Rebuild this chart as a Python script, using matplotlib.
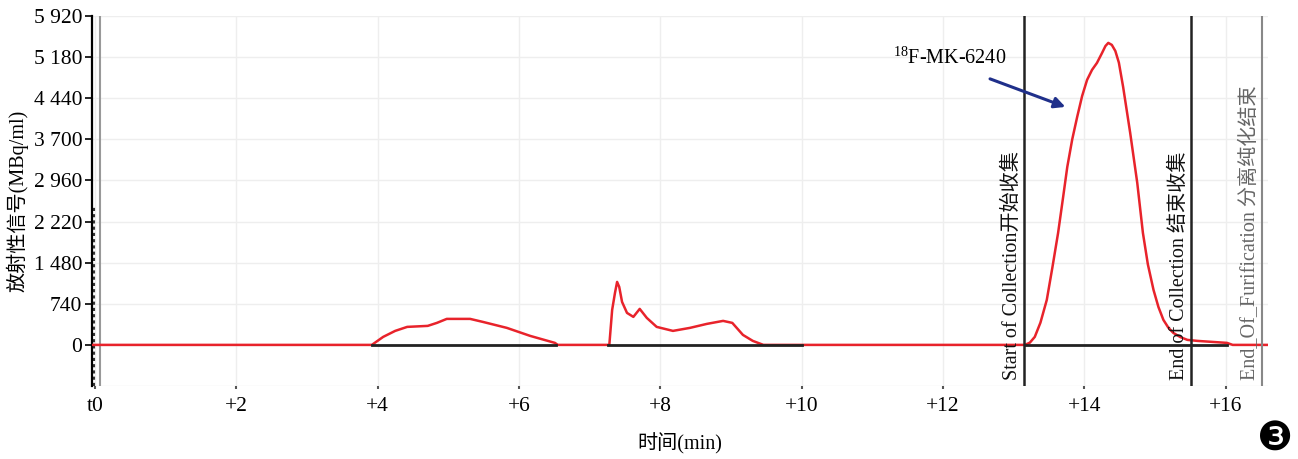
import matplotlib
matplotlib.use('Agg')
import matplotlib.pyplot as plt
import numpy as np

plt.rcParams['font.family'] = ['Liberation Serif', 'Noto Sans CJK SC', 'DejaVu Sans']
plt.rcParams['mathtext.fontset'] = 'custom'
plt.rcParams['mathtext.rm'] = 'Liberation Serif'

# radio trace (min, MBq/ml)
t_trace = [-0.04, 3.92, 4.08, 4.25, 4.42, 4.71, 4.84, 4.98, 5.31, 5.49, 5.83, 6.16, 6.51, 6.55,
           7.24, 7.28, 7.32, 7.36, 7.39, 7.42, 7.46, 7.53, 7.62, 7.71, 7.81, 7.95, 8.18, 8.42,
           8.66, 8.89, 9.02, 9.17, 9.31, 9.46,
           13.16, 13.23, 13.30, 13.38, 13.47, 13.55, 13.63, 13.70, 13.76, 13.83, 13.90, 13.97,
           14.04, 14.11, 14.18, 14.25, 14.30, 14.34, 14.39, 14.44, 14.49, 14.55, 14.65,
           14.75, 14.83, 14.90, 14.98, 15.05, 15.12, 15.19, 15.26, 15.36, 15.46, 15.60, 16.02,
           16.10, 16.60]
v_trace = [0, 0, 144, 252, 324, 342, 396, 468, 468, 414, 306, 162, 36, 0,
           0, 0, 630, 936, 1134, 1044, 774, 576, 504, 648, 486, 324, 252, 306,
           378, 432, 396, 180, 72, 0,
           0, 40, 144, 400, 810, 1400, 2016, 2650, 3204, 3700, 4104, 4480,
           4770, 4950, 5076, 5250, 5380, 5436, 5400, 5290, 5080, 4644, 3816,
           2916, 2016, 1450, 990, 680, 450, 310, 216, 140, 90, 72, 36,
           0, 0]

# integration baselines
base_start = [3.92, 7.26, 13.16]
base_end = [6.53, 10.0, 16.02]

# event markers
events = [13.15, 15.51, 16.52]
event_labels = ['Start of Collection开始收集', 'End of Collection 结束收集',
                'End_Of_Furification 分离纯化结束']

yticks = [0, 740, 1480, 2220, 2960, 3700, 4440, 5180, 5920]
ytick_labels = ['0', '740', '1 480', '2 220', '2 960', '3 700', '4 440', '5 180', '5 920']
xticks = [0, 2, 4, 6, 8, 10, 12, 14, 16]
xtick_labels = ['t0', '+2', '+4', '+6', '+8', '+10', '+12', '+14', '+16']

fig = plt.figure(figsize=(12.98, 4.59), dpi=100)
ax = fig.add_axes([92/1298, 1-386/459, 1176/1298, 370/459])
ax.set_xlim(-0.04, 16.6)
ax.set_ylim(-740, 5920)

ax.set_yticks(yticks)
ax.set_yticklabels(ytick_labels, fontsize=15.5)
ax.set_xticks(xticks)
ax.set_xticklabels(xtick_labels, fontsize=15.5)
ax.tick_params(axis='y', length=5, width=1.2, pad=2)
ax.tick_params(axis='x', length=2, width=1.5, pad=6, color='#555555')
for s in ['top', 'right', 'bottom']:
    ax.spines[s].set_visible(False)
ax.spines['left'].set_linewidth(1.6)
ax.grid(True, color='#eeeeee', linewidth=1)
ax.axhline(-740, color='#eeeeee', linewidth=1)
ax.set_axisbelow(True)

ax.axvline(0.07, color='#999999', linewidth=1.5)
ax.plot([-0.01, -0.01], [-740, 2500], color='#333333', linewidth=1.5, linestyle=(0, (1.5, 1.5)))

ax.plot(t_trace, v_trace, color='#e8232b', linewidth=1.8, zorder=3)
for a, b in zip(base_start, base_end):
    ax.plot([a, b], [0, 0], color='#222222', linewidth=2, zorder=4)

for i, (ev, lab) in enumerate(zip(events, event_labels)):
    col = '#222222' if i < 2 else '#888888'
    ax.axvline(ev, color=col, linewidth=1.8 if i < 2 else 1.5, zorder=5)
    tcol = '#111111' if i < 2 else '#666666'
    ax.text(ev - 0.17, -640, lab, rotation=90, ha='center', va='bottom',
            fontsize=14.5, color=tcol, zorder=6)

ax.annotate('', xy=(13.77, 4266), xytext=(12.63, 4806),
            arrowprops=dict(arrowstyle='-|>', color='#1f2f8a', lw=2.2, mutation_scale=16),
            zorder=7)
ax.text(12.1, 5166, r'$^{18}$F-MK-6240', ha='center', va='center', fontsize=14.5)

ax.set_ylabel('放射性信号(MBq/ml)', fontsize=14.5, labelpad=4)
ax.set_xlabel('时间(min)', fontsize=14.5, labelpad=12)

fig.text(1275/1298, 1-439/459, '❸', fontsize=29, ha='center', va='center',
         family='DejaVu Sans')

fig.savefig('out.png', dpi=100)
